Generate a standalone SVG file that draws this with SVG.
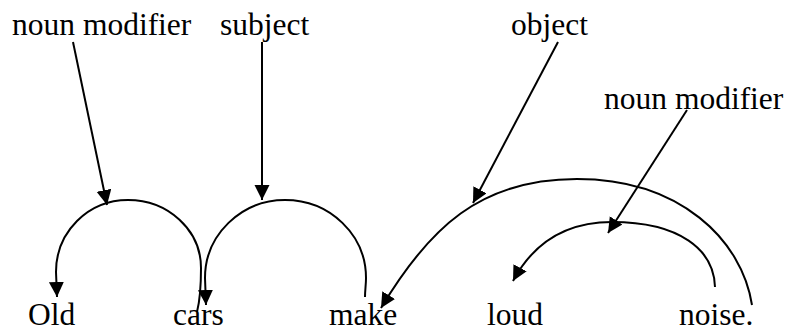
<svg xmlns="http://www.w3.org/2000/svg" width="791" height="332" viewBox="0 0 791 332">
  <style>
    .arc { fill: none; stroke: #000; stroke-width: 2; marker-end: url(#head); }
    .ptr { fill: none; stroke: #000; stroke-width: 2; marker-end: url(#head); }
  </style>
  <defs>
    <marker id="head" markerUnits="userSpaceOnUse" markerWidth="16" markerHeight="16" refX="15" refY="7.5" orient="auto">
      <path d="M0,0 L15,7.5 L0,15 z" fill="#000"/>
    </marker>
  </defs>

  <rect width="791" height="332" fill="#fff"/>

  <g font-family="'Liberation Serif', 'Times New Roman', 'DejaVu Serif', serif" font-size="31.5" fill="#000">
    <!-- sentence words -->
    <g id="word-old"><text x="28" y="325">Old</text></g>
    <g id="word-cars"><text x="173" y="325">cars</text></g>
    <g id="word-make"><text x="329" y="325">make</text></g>
    <g id="word-loud"><text x="487" y="325">loud</text></g>
    <g id="word-noise"><text x="679" y="325">noise.</text></g>

    <!-- relation labels -->
    <g id="label-nmod-1"><text x="12" y="35">noun modifier</text></g>
    <g id="label-subject"><text x="220" y="35">subject</text></g>
    <g id="label-object"><text x="511" y="35">object</text></g>
    <g id="label-nmod-2"><text x="604" y="109">noun modifier</text></g>
  </g>

  <g id="connectors">
    <!-- cars -> Old -->
    <path class="arc" d="M197,312 C200,300 201,285 201,268 C201,230 168,200 128,200 C88,200 56,232 56,272 L57,297"/>
    <!-- make -> cars -->
    <path class="arc" d="M365,297 C365,290 366,285 366,278 C366,235 330,200 285,200 C241,200 205,235 205,278 L206,305"/>
    <!-- noise -> make -->
    <path class="arc" d="M752,305 C742,240 680,179 577,179 C480,179 429,228 381,308"/>
    <!-- noise -> loud -->
    <path class="arc" d="M715,287 C714,250 680,222 612,222 C572,222 536,238 513,281"/>

    <!-- label pointers -->
    <path class="ptr" d="M73,42 L107,205"/>
    <path class="ptr" d="M262,42 L262,200"/>
    <path class="ptr" d="M558,42 L473,203"/>
    <path class="ptr" d="M687,110 L608,233"/>
  </g>
</svg>
